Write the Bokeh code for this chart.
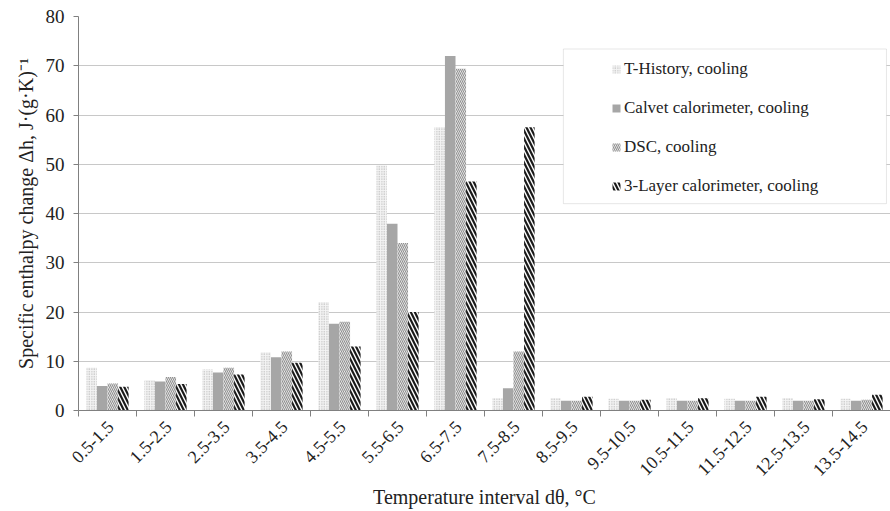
import math
from bokeh.plotting import figure
from bokeh.models import (ColumnDataSource, FixedTicker, Legend, LegendItem,
                          BoxAnnotation, Range1d)
from bokeh.embed import file_html
from bokeh.resources import INLINE

categories = ["0.5-1.5", "1.5-2.5", "2.5-3.5", "3.5-4.5", "4.5-5.5", "5.5-6.5",
              "6.5-7.5", "7.5-8.5", "8.5-9.5", "9.5-10.5", "10.5-11.5",
              "11.5-12.5", "12.5-13.5", "13.5-14.5"]
t_history = [8.7, 6.2, 8.3, 11.8, 22.0, 49.8, 57.5, 2.5, 2.5, 2.4, 2.5, 2.4, 2.5, 2.4]
calvet = [5.0, 5.9, 7.7, 10.8, 17.6, 37.9, 72.0, 4.5, 2.0, 2.0, 2.0, 2.0, 2.0, 2.0]
dsc = [5.5, 6.8, 8.7, 12.0, 18.0, 34.0, 69.4, 12.0, 2.0, 2.0, 2.0, 2.0, 2.0, 2.2]
three_layer = [4.8, 5.4, 7.3, 9.7, 13.0, 20.0, 46.5, 57.5, 2.8, 2.2, 2.5, 2.8, 2.3, 3.2]
series_names = ["T-History, cooling", "Calvet calorimeter, cooling",
                "DSC, cooling", "3-Layer calorimeter, cooling"]

FONT = "Liberation Serif"
TXT = "#222222"
n = len(categories)
centers = [i + 0.5 for i in range(n)]

p = figure(width=890, height=511, output_backend="svg", toolbar_location=None,
           x_range=Range1d(0, n), y_range=Range1d(0, 80),
           min_border_left=78, min_border_right=0, min_border_top=16,
           min_border_bottom=101)
p.outline_line_color = None
p.background_fill_color = "white"
p.border_fill_color = "white"

bw = 0.182
offsets = [-1.5 * bw, -0.5 * bw, 0.5 * bw, 1.5 * bw]
styles = [
    dict(fill_color="#f4f4f4", hatch_pattern="dot", hatch_color="#a8a8a8",
         hatch_scale=2.5, hatch_weight=1.5),
    dict(fill_color="#a6a6a6"),
    dict(fill_color="#f6f6f6", hatch_pattern="left_diagonal_line",
         hatch_color="#8e8e8e", hatch_scale=4, hatch_weight=1.1),
    dict(fill_color="white", hatch_pattern="left_diagonal_line",
         hatch_color="#1a1a1a", hatch_scale=8, hatch_weight=2.2),
]
renderers = []
for vals, off, st in zip([t_history, calvet, dsc, three_layer], offsets, styles):
    src = ColumnDataSource(dict(x=[c + off for c in centers], top=vals))
    r = p.vbar(x="x", top="top", width=bw, source=src, line_color=None, **st)
    renderers.append(r)

# x axis
lab_pos = [c + 0.05 for c in centers]
p.xaxis.ticker = FixedTicker(ticks=lab_pos, minor_ticks=list(range(n + 1)))
p.xaxis.major_label_overrides = {x: lab for x, lab in zip(lab_pos, categories)}
p.xaxis.major_label_orientation = math.pi / 4
p.xaxis.major_tick_line_color = None
p.xaxis.minor_tick_in = 0
p.xaxis.minor_tick_out = 6
p.xaxis.minor_tick_line_color = "#808080"
p.xaxis.axis_line_color = "#808080"
p.xaxis.major_label_text_font = FONT
p.xaxis.major_label_text_font_size = "18px"
p.xaxis.major_label_text_color = TXT
p.xaxis.major_label_standoff = 7
p.xaxis.axis_label = "Temperature interval dθ, °C"
p.xaxis.axis_label_text_font = FONT
p.xaxis.axis_label_text_font_style = "normal"
p.xaxis.axis_label_text_font_size = "20px"
p.xaxis.axis_label_text_color = TXT
p.xaxis.axis_label_standoff = 2
p.xgrid.grid_line_color = None

# y axis
p.yaxis.ticker = FixedTicker(ticks=list(range(0, 81, 10)))
p.yaxis.minor_tick_line_color = None
p.yaxis.major_tick_in = 0
p.yaxis.major_tick_out = 5
p.yaxis.major_tick_line_color = "#808080"
p.yaxis.axis_line_color = "#808080"
p.yaxis.major_label_text_font = FONT
p.yaxis.major_label_text_font_size = "19px"
p.yaxis.major_label_text_color = TXT
p.yaxis.major_label_standoff = 9
p.yaxis.axis_label = "Specific enthalpy change Δh, J·(g·K)⁻¹"
p.yaxis.axis_label_text_font = FONT
p.yaxis.axis_label_text_font_style = "normal"
p.yaxis.axis_label_text_font_size = "20px"
p.yaxis.axis_label_text_color = TXT
p.yaxis.axis_label_standoff = 6
p.ygrid.grid_line_color = "#c8c8c8"
p.ygrid.grid_line_width = 1

# legend box
box = BoxAnnotation(left=8.36, right=13.93, bottom=42.0, top=73.4,
                    fill_color="white", fill_alpha=1.0,
                    line_color="#b0b0b0", line_width=1)
p.add_layout(box)

legend = Legend(items=[LegendItem(label=nm, renderers=[r])
                       for nm, r in zip(series_names, renderers)],
                location=(533, 205), padding=0, spacing=0,
                label_height=39, glyph_height=10, glyph_width=10,
                label_standoff=3, border_line_color=None,
                background_fill_alpha=0.0,
                label_text_font=FONT, label_text_font_size="17px",
                label_text_color=TXT)
p.add_layout(legend, "center")

open("out.html", "w").write(file_html(p, INLINE))
